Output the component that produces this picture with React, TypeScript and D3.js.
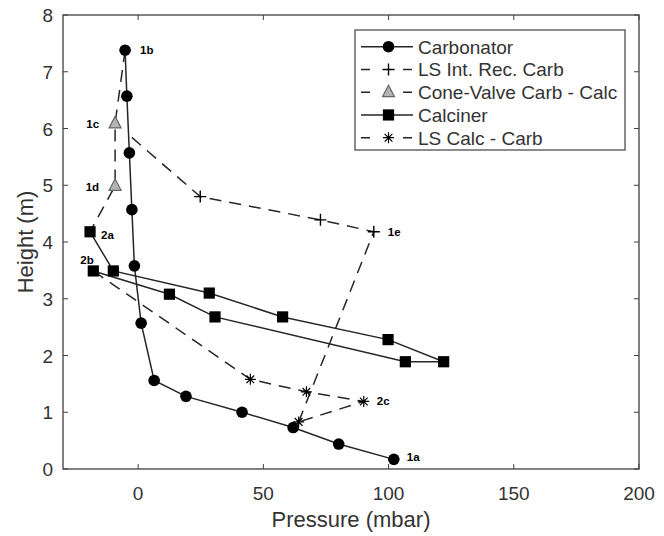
import React from "react";
import * as d3 from "d3";

// Pressure (mbar) / Height (m) profiles
const carbPressure = [102.1, 80.1, 61.9, 41.5, 19.1, 6.4, 1.2, -1.5, -2.5, -3.5, -4.5, -5.2];
const carbHeight = [0.17, 0.44, 0.73, 1.0, 1.28, 1.56, 2.57, 3.58, 4.57, 5.57, 6.57, 7.38];

const lsRecPressure = [64.1, 94.1, 72.8, 24.8, -4.0];
const lsRecHeight = [0.83, 4.18, 4.39, 4.8, 5.9];
const lsRecMarked = [false, true, true, true, false];

const conePressure = [-5.2, -9.2, -9.2, -19.2];
const coneHeight = [7.38, 6.09, 4.99, 4.18];
const coneMarked = [false, true, true, false];

const calcPressure = [-19.2, -9.9, 28.4, 57.7, 99.8, 122.0, 106.7, 30.7, 12.5, -17.9];
const calcHeight = [4.18, 3.49, 3.1, 2.68, 2.28, 1.89, 1.89, 2.68, 3.08, 3.49];

const lsCalcPressure = [-17.9, 44.8, 67.2, 90.1, 64.1];
const lsCalcHeight = [3.49, 1.58, 1.36, 1.19, 0.83];
const lsCalcMarked = [false, true, true, true, true];

const xTicks = [0, 50, 100, 150, 200];
const yTicks = [0, 1, 2, 3, 4, 5, 6, 7, 8];

const pointLabels = ["1a", "1b", "1c", "1d", "1e", "2a", "2b", "2c"];
const labelPressure = [102.1, -5.2, -9.2, -9.2, 94.1, -19.2, -17.9, 90.1];
const labelHeight = [0.17, 7.38, 6.09, 4.99, 4.18, 4.18, 3.49, 1.19];

const legendNames = ["Carbonator", "LS Int. Rec. Carb", "Cone-Valve Carb - Calc", "Calciner", "LS Calc - Carb"];

// label offsets (px) relative to their point
const labelOffset: Record<string, [number, number, string]> = {
  "1a": [13, 2, "start"],
  "1b": [15, 4, "start"],
  "1c": [-16, 5, "end"],
  "1d": [-16, 5, "end"],
  "1e": [14, 4, "start"],
  "2a": [11, 7, "start"],
  "2b": [-13, -7, "start"],
  "2c": [13, 4, "start"],
};

const W = 664;
const H = 536;
const margin = { top: 15, right: 25, bottom: 67, left: 63 };
const ink = "#262626";
const textCol = "#333";

type Kind = "circle" | "plus" | "triangle" | "square" | "star";

function Marker({ kind, x, y }: { kind: Kind; x: number; y: number }) {
  if (kind === "circle") return <circle cx={x} cy={y} r={5.8} fill="#000" />;
  if (kind === "square") return <rect x={x - 5.6} y={y - 5.6} width={11.2} height={11.2} fill="#000" />;
  if (kind === "triangle")
    return (
      <path
        d={`M${x},${y - 7}L${x + 6},${y + 4.5}L${x - 6},${y + 4.5}Z`}
        fill="#b4b4b4"
        stroke="#666"
        strokeWidth={1.2}
      />
    );
  if (kind === "plus")
    return (
      <path d={`M${x - 6},${y}H${x + 6}M${x},${y - 6}V${y + 6}`} stroke="#000" strokeWidth={1.4} />
    );
  const r = 5.5;
  const d = r * 0.7;
  return (
    <path
      d={`M${x - r},${y}H${x + r}M${x},${y - r}V${y + r}M${x - d},${y - d}L${x + d},${y + d}M${x - d},${y + d}L${x + d},${y - d}`}
      stroke="#000"
      strokeWidth={1.2}
    />
  );
}

export default function App() {
  const x = d3.scaleLinear().domain([-30, 200]).range([margin.left, W - margin.right]);
  const y = d3.scaleLinear().domain([0, 8]).range([H - margin.bottom, margin.top]);
  const [x0, x1] = x.range();
  const [y0, y1] = y.range();

  const line = d3
    .line<[number, number]>()
    .x((d) => x(d[0]))
    .y((d) => y(d[1]));

  const series = [
    { p: carbPressure, h: carbHeight, kind: "circle" as Kind, dash: "", marked: carbPressure.map(() => true) },
    { p: lsRecPressure, h: lsRecHeight, kind: "plus" as Kind, dash: "12,8", marked: lsRecMarked },
    { p: conePressure, h: coneHeight, kind: "triangle" as Kind, dash: "12,8", marked: coneMarked },
    { p: calcPressure, h: calcHeight, kind: "square" as Kind, dash: "", marked: calcPressure.map(() => true) },
    { p: lsCalcPressure, h: lsCalcHeight, kind: "star" as Kind, dash: "12,8", marked: lsCalcMarked },
  ];

  const legendX = 355;
  const legendY = 30;
  const rowH = 22.75;

  return (
    <svg
      width={W}
      height={H}
      style={{ position: "absolute", left: 0, top: 0, background: "#fff" }}
      fontFamily="Arial, 'Liberation Sans', sans-serif"
    >
      <rect width={W} height={H} fill="#fff" />

      {series.map((s, i) => (
        <path
          key={"l" + i}
          d={line(s.p.map((v, j) => [v, s.h[j]] as [number, number])) || ""}
          fill="none"
          stroke={ink}
          strokeWidth={1.5}
          strokeDasharray={s.dash || undefined}
        />
      ))}
      {series.map((s, i) =>
        s.p.map((v, j) =>
          s.marked[j] ? <Marker key={`m${i}-${j}`} kind={s.kind} x={x(v)} y={y(s.h[j])} /> : null
        )
      )}

      {pointLabels.map((t, i) => {
        const [dx, dy, anchor] = labelOffset[t];
        return (
          <text
            key={t}
            x={x(labelPressure[i]) + dx}
            y={y(labelHeight[i]) + dy}
            fontSize={11.5}
            fontWeight="bold"
            textAnchor={anchor}
            fill="#000"
          >
            {t}
          </text>
        );
      })}

      {/* axes box with inward ticks */}
      <rect x={x0} y={y1} width={x1 - x0} height={y0 - y1} fill="none" stroke="#404040" strokeWidth={1.3} />
      {xTicks.map((t) => (
        <g key={"xt" + t}>
          <line x1={x(t)} x2={x(t)} y1={y0} y2={y0 - 5} stroke="#404040" />
          <line x1={x(t)} x2={x(t)} y1={y1} y2={y1 + 5} stroke="#404040" />
          <text x={x(t)} y={y0 + 31} fontSize={19} textAnchor="middle" fill={textCol}>
            {t}
          </text>
        </g>
      ))}
      {yTicks.map((t) => (
        <g key={"yt" + t}>
          <line x1={x0} x2={x0 + 5} y1={y(t)} y2={y(t)} stroke="#404040" />
          <line x1={x1} x2={x1 - 5} y1={y(t)} y2={y(t)} stroke="#404040" />
          <text x={x0 - 10} y={y(t) + 7} fontSize={19} textAnchor="end" fill={textCol}>
            {t}
          </text>
        </g>
      ))}

      <text x={(x0 + x1) / 2} y={527} fontSize={22} textAnchor="middle" fill={textCol}>
        Pressure (mbar)
      </text>
      <text
        transform={`translate(33,${(y0 + y1) / 2}) rotate(-90)`}
        fontSize={22}
        textAnchor="middle"
        fill={textCol}
      >
        Height (m)
      </text>

      {/* legend */}
      <rect x={legendX} y={legendY} width={270} height={120} fill="#fff" stroke="#404040" strokeWidth={1.2} />
      {legendNames.map((name, i) => {
        const cy = legendY + 16.7 + i * rowH;
        const s = series[i];
        return (
          <g key={name}>
            <line
              x1={legendX + 6}
              x2={legendX + 58}
              y1={cy}
              y2={cy}
              stroke={ink}
              strokeWidth={1.5}
              strokeDasharray={s.dash ? "9,33" : undefined}
            />
            <Marker kind={s.kind} x={legendX + 33.5} y={cy} />
            <text x={legendX + 63} y={cy + 7} fontSize={19} fill={textCol}>
              {name}
            </text>
          </g>
        );
      })}
    </svg>
  );
}
